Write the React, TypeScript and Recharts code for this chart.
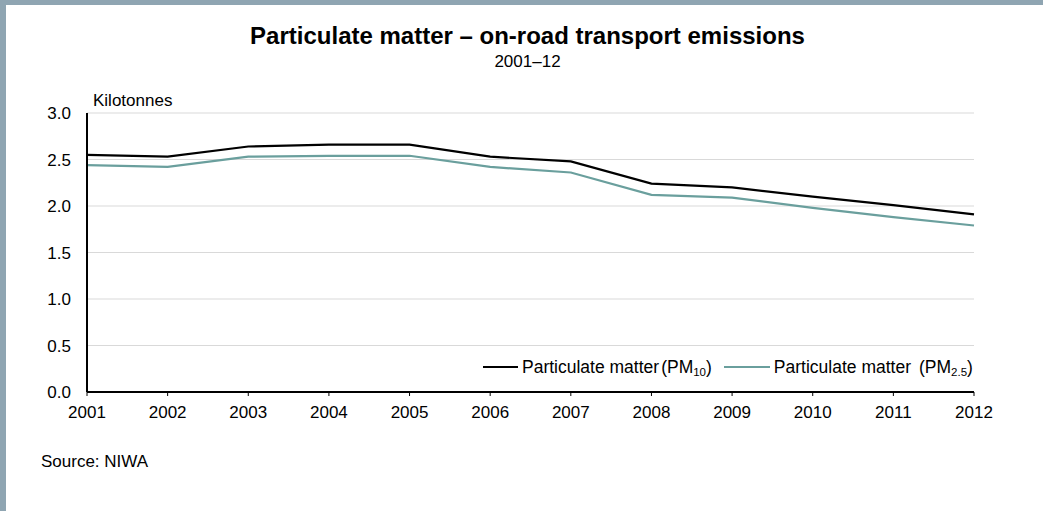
import React from "react";
import { CartesianGrid, Legend, Line, LineChart, XAxis, YAxis } from "recharts";

const years = ["2001", "2002", "2003", "2004", "2005", "2006", "2007", "2008", "2009", "2010", "2011", "2012"];
const pm10 = [2.55, 2.53, 2.64, 2.66, 2.66, 2.53, 2.48, 2.24, 2.2, 2.1, 2.01, 1.91];
const pm25 = [2.44, 2.42, 2.53, 2.54, 2.54, 2.42, 2.36, 2.12, 2.09, 1.98, 1.88, 1.79];
const yTicks = [0, 0.5, 1, 1.5, 2, 2.5, 3];

const seriesKeys = ["pm10", "pm25"];
const seriesSubs = ["10", "2.5"];
const seriesColors = ["#000000", "#6a9f9d"];

const FONT = '"Liberation Sans", Arial, sans-serif';
const FRAME = "#8fa5b2";

const data = years.map((year, i) => ({ year, pm10: pm10[i], pm25: pm25[i] }));

// legend swatch lengths / spacing, per series
const swatchWidth = [35, 46];
const parenGap = [2, 8];

function LegendContent() {
  return (
    <div
      style={{
        display: "flex",
        alignItems: "center",
        fontFamily: FONT,
        fontSize: 17.5,
        color: "#000",
        whiteSpace: "nowrap",
        lineHeight: "20px",
      }}
    >
      {seriesKeys.map((key, i) => (
        <span key={key} style={{ display: "flex", alignItems: "center", marginRight: i === 0 ? 12 : 0 }}>
          <span
            style={{
              display: "inline-block",
              width: swatchWidth[i],
              height: 0,
              borderTop: `2px solid ${seriesColors[i]}`,
              marginRight: 4,
            }}
          />
          <span>
            Particulate matter
            <span style={{ marginLeft: parenGap[i] }}>(PM</span>
            <sub style={{ fontSize: 11.5, verticalAlign: "-3px", lineHeight: 0 }}>{seriesSubs[i]}</sub>)
          </span>
        </span>
      ))}
    </div>
  );
}

const textBase: React.CSSProperties = {
  position: "absolute",
  fontFamily: FONT,
  color: "#000",
  lineHeight: 1,
  whiteSpace: "nowrap",
};

export default function App() {
  return (
    <div
      style={{
        position: "absolute",
        left: 0,
        top: 0,
        width: 1043,
        height: 511,
        background: "#fff",
        overflow: "hidden",
      }}
    >
      <LineChart width={1043} height={511} data={data} margin={{ top: 113, right: 69, bottom: 89, left: 27 }}>
        <CartesianGrid horizontal vertical={false} stroke="#d9d9d9" />
        <XAxis
          dataKey="year"
          height={30}
          axisLine={{ stroke: "#000", strokeWidth: 2 }}
          tickLine={{ stroke: "#000", strokeWidth: 1 }}
          tickSize={4}
          tickMargin={10}
          tick={{ fontSize: 17, fill: "#000", fontFamily: FONT }}
          interval={0}
        />
        <YAxis
          domain={[0, 3]}
          ticks={yTicks}
          width={60}
          axisLine={{ stroke: "#000", strokeWidth: 2 }}
          tickLine={false}
          tickSize={0}
          tickMargin={16}
          tick={{ fontSize: 17, fill: "#000", fontFamily: FONT }}
          tickFormatter={(v) => Number(v).toFixed(1)}
        />
        <Legend
          layout="horizontal"
          verticalAlign="middle"
          align="center"
          content={() => <LegendContent />}
          wrapperStyle={{ left: 483, top: 357, width: "auto" }}
        />
        <Line
          type="linear"
          dataKey="pm10"
          stroke={seriesColors[0]}
          strokeWidth={2.2}
          dot={false}
          isAnimationActive={false}
        />
        <Line
          type="linear"
          dataKey="pm25"
          stroke={seriesColors[1]}
          strokeWidth={2.2}
          dot={false}
          isAnimationActive={false}
        />
      </LineChart>

      <div style={{ ...textBase, left: 0, width: 1055, top: 24, textAlign: "center", fontSize: 24, fontWeight: "bold" }}>
        Particulate matter – on-road transport emissions
      </div>
      <div style={{ ...textBase, left: 0, width: 1055, top: 53, textAlign: "center", fontSize: 17 }}>2001–12</div>
      <div style={{ ...textBase, left: 93, top: 92, fontSize: 17 }}>Kilotonnes</div>
      <div style={{ ...textBase, left: 41, top: 453, fontSize: 17 }}>Source: NIWA</div>

      <div style={{ position: "absolute", left: 0, top: 0, width: 1043, height: 5, background: FRAME }} />
      <div style={{ position: "absolute", left: 0, top: 0, width: 6, height: 511, background: FRAME }} />
    </div>
  );
}
